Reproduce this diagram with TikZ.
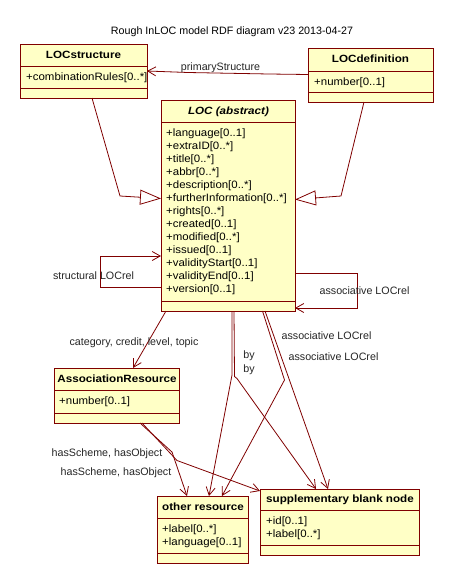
\documentclass[tikz,border=0pt]{standalone}
\usepackage{fontspec}
\setmainfont{Liberation Sans}
\newfontfamily\hdrfont{Liberation Sans}[FakeStretch=1.11]
\newfontfamily\attrfont{Liberation Sans}[FakeStretch=1.07]
\usetikzlibrary{arrows.meta}
\definecolor{umlline}{HTML}{800000}
\definecolor{umlfill}{HTML}{FFFFC6}
\newcommand\umlclass[7]{% name, x1, y1, x2, y2, y header divider, y attribute divider
  \node[clsbox, minimum width={(#4-#2)*1pt}, minimum height={(#5-#3)*1pt}] (#1) at (#2,#3) {};
  \draw[umlrule] (#1.west |- 0,#6) -- (#1.east |- 0,#6);
  \draw[umlrule] (#1.west |- 0,#7) -- (#1.east |- 0,#7);
}
\begin{document}
\begin{tikzpicture}[x=1pt,y=-1pt,
  font=\fontsize{10.7}{13}\selectfont,
  clsbox/.style={draw=umlline, fill=umlfill, line width=0.8pt, inner sep=0pt, outer sep=0pt, anchor=north west},
  umlrule/.style={draw=umlline, line width=0.8pt},
  hdr/.style={anchor=base, inner sep=0pt, font=\fontsize{10.5}{13}\selectfont\hdrfont\bfseries},
  attr/.style={anchor=base west, inner sep=0pt, font=\fontsize{10.7}{13}\selectfont\attrfont},
  lbl/.style={anchor=base, inner sep=0pt, text=black!85},
  assoc/.style={draw=umlline, line width=0.8pt, -{Straight Barb[length=8pt,width=9pt,line width=0.8pt]}},
  gener/.style={draw=umlline, line width=0.8pt, -{Triangle[open,length=21pt,width=15pt,line width=0.8pt]}},
  plain/.style={draw=umlline, line width=0.8pt}]
\useasboundingbox[fill=white] (0,0) rectangle (454,584);

\node[lbl, text=black] (title) at (232,34.5) {Rough InLOC model RDF diagram v23 2013-04-27};

% classes
\umlclass{ls}{20}{44}{147}{98}{66}{88}
\node[hdr] (ls-t) at (83.5,58.5) {LOCstructure};
\node[attr] (ls-a) at (26,80.5) {+combinationRules[0..*]};

\umlclass{ld}{308}{48}{433}{102}{71}{92}
\node[hdr] (ld-t) at (370.5,62.8) {LOCdefinition};
\node[attr] (ld-a) at (314,85) {+number[0..1]};

\umlclass{loc}{161}{100}{295}{311}{122}{301}
\node[hdr, font=\fontsize{10.5}{13}\selectfont\hdrfont\bfseries\itshape] (loc-t) at (228.5,114.5) {LOC (abstract)};
\foreach \t [count=\i from 0] in {+language[0..1],+extraID[0..*],+title[0..*],+abbr[0..*],+description[0..*],+furtherInformation[0..*],+rights[0..*],+created[0..1],+modified[0..*],+issued[0..1],+validityStart[0..1],+validityEnd[0..1],+version[0..1]}
  \node[attr] (loc-a\i) at (166,136.5+13*\i) {\t};

\umlclass{ar}{54}{368}{179}{423}{390}{413}
\node[hdr] (ar-t) at (117,382.5) {AssociationResource};
\node[attr] (ar-a) at (59,404.5) {+number[0..1]};

\umlclass{or}{157}{496}{248}{563}{518}{553}
\node[hdr] (or-t) at (203,510.8) {other resource};
\node[attr] (or-a0) at (162,532) {+label[0..*]};
\node[attr] (or-a1) at (162,545) {+language[0..1]};

\umlclass{sb}{260}{489}{419}{555}{510}{545}
\node[hdr] (sb-t) at (340,502.8) {supplementary blank node};
\node[attr] (sb-a0) at (266,524) {+id[0..1]};
\node[attr] (sb-a1) at (266,537) {+label[0..*]};

% connectors
\draw[assoc] (ld.west |- 0,74.5) -- (269,74) -- (188,72.5) -- (ls.east |- 0,71);
\node[lbl] (l-ps) at (220.5,70.5) {primaryStructure};

\draw[gener] (92,0 |- ls.south) -- (120,196) -- (loc.west |- 0,198.5);
\draw[gener] (364,0 |- ld.south) -- (341,196) -- (loc.east |- 0,199.5);

\draw[assoc] (loc.west |- 0,287) -- (100,287) -- (100,256) -- (loc.west |- 0,256);
\node[lbl] (l-sl) at (93.5,279.5) {structural LOCrel};

\draw[assoc] (loc.east |- 0,273) -- (357,273) -- (357,308) -- (loc.east |- 0,308);
\node[lbl] (l-al) at (364.5,294.5) {associative LOCrel};

\draw[assoc] (166,0 |- loc.south) -- (133,0 |- ar.north);
\node[lbl] (l-cat) at (134,345.5) {category, credit, level, topic};

\draw[assoc] (232,0 |- loc.south) -- (232,375) -- (209,0 |- or.north);
\draw[assoc] (234,0 |- loc.south) -- (234.5,376.5) -- (237,378.5) -- (316,0 |- sb.north);
\node[lbl] (l-by1) at (249,358.5) {by};
\node[lbl] (l-by2) at (249,372.5) {by};

\draw[assoc] (262.5,0 |- loc.south) -- (284.5,380) -- (222,0 |- or.north);
\draw[assoc] (265,0 |- loc.south) -- (328,0 |- sb.north);
\node[lbl] (l-a1) at (326.5,339.5) {associative LOCrel};
\node[lbl] (l-a2) at (333.5,360.5) {associative LOCrel};

\draw[assoc] (140,0 |- ar.south) -- (172,452) -- (187,0 |- or.north);
\draw[assoc] (142,0 |- ar.south) -- (177,460.5) -- (sb.west |- 0,491);
\node[lbl] (l-hs1) at (107,456.5) {hasScheme, hasObject};
\node[lbl] (l-hs2) at (116,475.5) {hasScheme, hasObject};
\end{tikzpicture}
\end{document}
